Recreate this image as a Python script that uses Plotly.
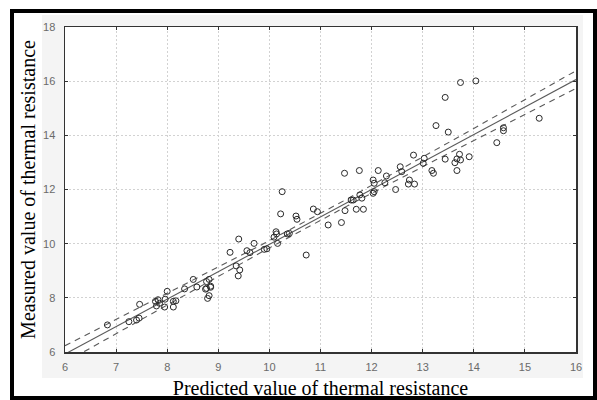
import numpy as np
import plotly.graph_objects as go

# Predicted (x) and measured (y) thermal resistance
predicted = [6.83, 7.25, 7.40, 7.45, 7.46, 7.77, 7.82, 7.85, 7.79, 7.95,
             8.00, 7.96, 8.12, 8.17, 8.12, 8.34, 8.51, 8.58, 8.75, 8.77,
             8.82, 8.85, 8.79, 8.82, 9.23, 9.40, 9.35, 9.42, 9.39, 9.56,
             9.62, 9.70, 9.90, 9.95, 10.13, 10.14, 10.09, 10.16, 10.35, 10.39,
             10.72, 10.25, 10.22, 10.52, 10.54, 10.86, 10.94, 11.15, 11.41, 11.47,
             11.76, 11.60, 11.64, 11.77, 11.81, 11.48, 11.70, 11.84, 12.13, 12.03,
             12.05, 12.29, 12.26, 12.03, 12.05, 12.56, 12.59, 12.47, 12.74, 12.72,
             12.84, 12.82, 13.03, 13.01, 13.18, 13.21, 13.44, 13.26, 13.50, 13.44,
             13.74, 14.04, 14.45, 14.58, 14.58, 15.28, 13.72, 13.67, 13.74, 13.63,
             13.91, 13.67, 8.77, 8.85]
measured = [7.00, 7.12, 7.18, 7.25, 7.76, 7.87, 7.93, 7.80, 7.70, 7.66,
            8.24, 7.95, 7.87, 7.89, 7.66, 8.33, 8.68, 8.40, 8.32, 8.60,
            8.68, 8.43, 7.98, 8.08, 9.68, 10.17, 9.18, 9.03, 8.81, 9.74,
            9.67, 10.01, 9.79, 9.81, 10.44, 10.36, 10.24, 10.01, 10.36, 10.38,
            9.58, 11.92, 11.10, 11.02, 10.90, 11.28, 11.18, 10.69, 10.78, 12.60,
            12.70, 11.61, 11.61, 11.80, 11.68, 11.22, 11.27, 11.27, 12.70, 12.35,
            12.23, 12.50, 12.25, 11.86, 11.92, 12.84, 12.66, 12.00, 12.35, 12.20,
            12.20, 13.27, 13.15, 12.97, 12.70, 12.60, 13.12, 14.36, 14.12, 15.40,
            15.95, 16.01, 13.73, 14.28, 14.17, 14.63, 13.30, 13.13, 13.09, 12.99,
            13.21, 12.70, 8.35, 8.39]

x_ticks = [6, 7, 8, 9, 10, 11, 12, 13, 14, 15, 16]
y_ticks = [6, 8, 10, 12, 14, 16, 18]
t_crit = 1.99  # 95% two-sided t value for the confidence band

x = np.array(predicted)
y = np.array(measured)
n = len(x)
slope, intercept = np.polyfit(x, y, 1)
resid = y - (slope * x + intercept)
s = np.sqrt(np.sum(resid ** 2) / (n - 2))
sxx = np.sum((x - x.mean()) ** 2)
xs = np.linspace(x_ticks[0], x_ticks[-1], 201)
fit = slope * xs + intercept
half = t_crit * s * np.sqrt(1.0 / n + (xs - x.mean()) ** 2 / sxx)

fig = go.Figure()
for band in (fit + half, fit - half):
    fig.add_trace(go.Scatter(x=xs, y=band, mode="lines",
                             line=dict(color="#5a5a5a", width=1.1, dash="6px,5px"),
                             hoverinfo="skip"))
fig.add_trace(go.Scatter(x=xs, y=fit, mode="lines",
                         line=dict(color="#5a5a5a", width=1.1),
                         hoverinfo="skip"))
fig.add_trace(go.Scatter(x=predicted, y=measured, mode="markers",
                         marker=dict(symbol="circle-open", size=6,
                                     color="#2a2a2a", line=dict(width=1))))

L, R, T, B = 65, 21, 27, 48
W, H = 597, 400
pw, ph = W - L - R, H - T - B


def px(xp):
    return (xp - L) / pw


def py(yp):
    return (H - B - yp) / ph


fig.update_layout(
    width=W, height=H,
    margin=dict(l=L, r=R, t=T, b=B),
    paper_bgcolor="white", plot_bgcolor="white",
    showlegend=False,
    shapes=[
        dict(type="rect", xref="paper", yref="paper", layer="below",
             x0=px(42), x1=px(583), y0=py(378), y1=py(15),
             fillcolor="#f4f4f4", line=dict(width=0)),
        dict(type="rect", xref="paper", yref="paper", layer="below",
             x0=0, x1=1, y0=0, y1=1,
             fillcolor="white", line=dict(width=0)),
        dict(type="rect", xref="paper", yref="paper", layer="above",
             x0=px(12), x1=px(595), y0=py(398), y1=py(11),
             fillcolor="rgba(0,0,0,0)", line=dict(color="black", width=4)),
    ],
)
common = dict(
    showgrid=True, gridcolor="#d2d2d2", griddash="2px,2px", gridwidth=1,
    showline=True, linecolor="#333333", linewidth=1.5, mirror="ticks",
    ticks="inside", ticklen=3, tickcolor="#333333",
    tickfont=dict(family="Liberation Sans, Arial", size=11, color="#6a6a6a"),
    zeroline=False, automargin=False,
)
fig.update_xaxes(
    range=[6, 16], tickvals=x_ticks, ticktext=[str(v) for v in x_ticks],
    ticklabelstandoff=4,
    title=dict(text="Predicted value of thermal resistance",
               font=dict(family="Liberation Serif, Times New Roman", size=20, color="black"),
               standoff=9),
    **common,
)
fig.update_yaxes(
    range=[6, 18], tickvals=y_ticks, ticktext=[str(v) for v in y_ticks],
    ticklabelstandoff=6,
    title=dict(text="Measured value of thermal resistance",
               font=dict(family="Liberation Serif, Times New Roman", size=20, color="black"),
               standoff=2),
    **common,
)
fig.write_html("out.html",
               config={"displayModeBar": False, "staticPlot": True},
               post_script="document.body.style.margin='0';document.body.style.overflow='hidden';")
